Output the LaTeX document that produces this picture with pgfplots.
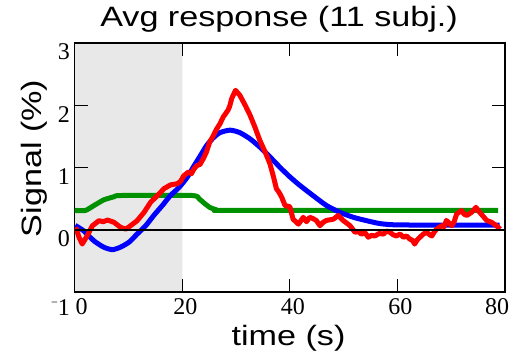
\documentclass[border=0pt]{standalone}
\usepackage{pgfplots}
\pgfplotsset{compat=1.18}
\usepackage{fontspec}
\setmainfont{Liberation Sans}
\newfontfamily\widesans[FakeStretch=1.22]{Liberation Sans}
\newfontfamily\tickfont{Liberation Serif}
\definecolor{shade}{RGB}{232,232,232}
\definecolor{myred}{RGB}{255,0,0}
\definecolor{myblue}{RGB}{0,0,255}
\definecolor{mygreen}{RGB}{0,145,0}
\begin{document}
\begin{tikzpicture}
\useasboundingbox (-74.7bp,-66bp) rectangle (440.3bp,292bp);
\begin{axis}[
  at={(0,0)}, anchor=south west,
  scale only axis, width=430.3bp, height=249bp,
  xmin=0, xmax=80, ymin=-1, ymax=3,
  hide axis,
]
\addplot[fill=shade, draw=none] coordinates {(0,-1) (20,-1) (20,3) (0,3)} \closedcycle;
\end{axis}
\begin{axis}[
  at={(0,0)}, anchor=south west,
  scale only axis, width=430.3bp, height=249bp,
  xmin=0, xmax=80, ymin=-1, ymax=3,
  axis line style={line width=1.3bp, black},
  tick align=inside,
  major tick length=13bp,
  every tick/.style={line width=1.3bp, black},
  xtick={0,20,40,60,80},
  xticklabels={\kern8bp 0,20,40,60,80\kern22bp},
  ytick={-1,0,1,2,3},
  yticklabels={\raisebox{-6bp}{\raisebox{9bp}{\fontsize{12bp}{12bp}\selectfont\textminus}1},0,1,2,3},
  xticklabel style={font=\tickfont\fontsize{24bp}{26bp}\selectfont, anchor=base, inner sep=0pt, yshift=-22bp, xshift=3bp},
  yticklabel style={font=\tickfont\fontsize{24bp}{26bp}\selectfont, anchor=base east, inner sep=0pt, yshift=-17bp, xshift=-4.7bp},
  title={Avg response (11 subj.)},
  title style={at={(axis description cs:0.475,1.0442)}, anchor=base, inner sep=0pt, font=\widesans\fontsize{28bp}{30bp}\selectfont},
  xlabel={time (s)},
  xlabel style={at={(axis description cs:0.497,-0.2129)}, anchor=base, inner sep=0pt, font=\widesans\fontsize{28bp}{30bp}\selectfont},
  ylabel={Signal (\%)},
  ylabel style={at={(axis description cs:-0.0767,0.536)}, anchor=base, rotate=0, inner sep=0pt, font=\widesans\fontsize{28bp}{30bp}\selectfont},
]
% green
\addplot[mygreen, line width=5bp, smooth, tension=0.3, line join=round] coordinates {
(0,0.31) (2.0,0.31) (3.6,0.39) (5.4,0.48) (7.3,0.53) (8.5,0.55) (21.9,0.55) (23.1,0.5) (23.9,0.44) (25.1,0.36) (26.4,0.32) (28.3,0.31) (78.7,0.31)};
% blue
\addplot[myblue, line width=5bp, smooth, tension=0.4, line join=round] coordinates {
(0.1,0.07) (1.7,-0.02) (3.6,-0.18) (5.4,-0.28) (7.0,-0.32) (8.5,-0.28) (10.1,-0.2) (11.6,-0.07) (13.2,0.065) (14.7,0.23) (16.3,0.39) (17.8,0.55) (19.4,0.68) (20.9,0.84) (22.0,1.0) (23.3,1.18) (24.5,1.35) (25.7,1.47) (27,1.56) (28.9,1.6) (30.7,1.56) (32.6,1.46) (34.4,1.33) (36.3,1.17) (38.2,1.0) (40,0.85) (41.9,0.71) (44.3,0.55) (46.8,0.39) (49.3,0.28) (51.8,0.2) (54.3,0.145) (56.7,0.1) (59.2,0.08) (65,0.075) (79,0.075)};
% red
\addplot[myred, line width=5bp, line join=round] coordinates {
(0.2,0.04) (0.8,-0.12) (1.4,-0.23) (2.3,-0.1) (3.3,0.065) (4.5,0.145) (5.3,0.13) (6.1,0.155) (7.3,0.12) (8.5,0.04) (9.5,0.01) (10.4,0.065) (11.6,0.145) (12.9,0.28) (14.1,0.44) (15.4,0.55) (16.6,0.66) (17.8,0.72) (19.1,0.74) (19.7,0.78) (20.3,0.87) (21.2,0.93) (21.7,0.9) (22.2,0.98) (22.7,1.03) (23.3,1.05) (23.9,1.14) (24.5,1.25) (25.1,1.41) (25.7,1.5) (26.4,1.62) (27.0,1.7) (27.6,1.81) (28.5,1.92) (28.8,1.98) (29.2,2.11) (29.9,2.24) (30.7,2.16) (31.7,2.0) (32.6,1.84) (33.5,1.65) (34.4,1.44) (35.4,1.25) (36.3,1.06) (36.9,0.87) (37.5,0.66) (38.0,0.6) (38.5,0.52) (39.1,0.39) (40.0,0.37) (40.6,0.17) (41.6,0.09) (42.5,0.2) (43.1,0.13) (43.7,0.2) (44.3,0.18) (44.9,0.15) (45.6,0.065) (46.2,0.12) (46.8,0.15) (48.1,0.17) (49.0,0.23) (49.9,0.15) (51.2,0.065) (52.1,-0.04) (52.7,-0.03) (53.3,-0.07) (54.0,-0.05) (54.6,-0.12) (55.2,-0.09) (55.8,-0.1) (56.6,-0.06) (57.4,-0.07) (58.0,-0.02) (58.6,-0.04) (59.2,-0.08) (59.8,-0.1) (60.5,-0.07) (61.1,-0.12) (61.7,-0.1) (62.3,-0.15) (62.8,-0.17) (63.2,-0.23) (63.7,-0.16) (64.2,-0.12) (64.8,-0.07) (65.4,-0.04) (66.0,-0.08) (66.4,-0.1) (66.9,-0.03) (67.3,0.01) (68.2,0.065) (68.7,0.05) (69.1,0.15) (70.1,0.065) (70.5,0.12) (71.0,0.25) (71.9,0.31) (72.4,0.25) (72.9,0.23) (73.8,0.28) (74.6,0.36) (75.1,0.3) (75.6,0.25) (76.6,0.15) (77.5,0.12) (78.4,0.065) (79.1,0.01)};
% zero line
\addplot[black, line width=1.5bp] coordinates {(0,0) (80,0)};
% inward tick marks (13bp long)
\draw[line width=1.3bp, black] (axis cs:20,-1) -- (axis cs:20,-0.791);
\draw[line width=1.3bp, black] (axis cs:40,-1) -- (axis cs:40,-0.791);
\draw[line width=1.3bp, black] (axis cs:60,-1) -- (axis cs:60,-0.791);
\draw[line width=1.3bp, black] (axis cs:20,3) -- (axis cs:20,2.791);
\draw[line width=1.3bp, black] (axis cs:40,3) -- (axis cs:40,2.791);
\draw[line width=1.3bp, black] (axis cs:60,3) -- (axis cs:60,2.791);
\draw[line width=1.3bp, black] (axis cs:0,1) -- (axis cs:2.417,1);
\draw[line width=1.3bp, black] (axis cs:0,2) -- (axis cs:2.417,2);
\draw[line width=1.3bp, black] (axis cs:80,1) -- (axis cs:77.583,1);
\draw[line width=1.3bp, black] (axis cs:80,2) -- (axis cs:77.583,2);
\end{axis}
\end{tikzpicture}
\end{document}
